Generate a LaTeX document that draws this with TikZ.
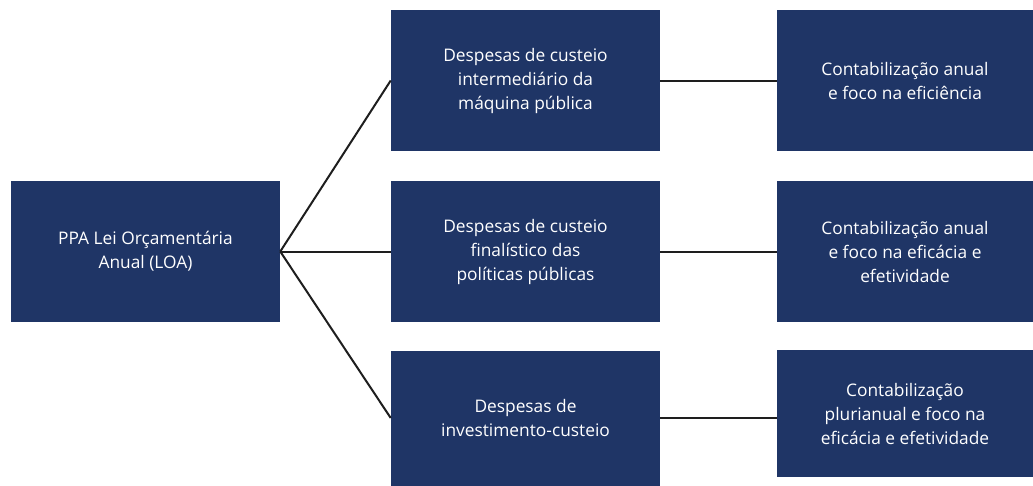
\documentclass[tikz,border=0pt]{standalone}
\usepackage{fontspec}
\setmainfont{Open Sans}
\usepackage{tikz}
\definecolor{boxblue}{RGB}{31,53,102}
\definecolor{linegray}{RGB}{30,30,30}

\begin{document}
\begin{tikzpicture}[x=0.75pt,y=0.75pt,yscale=-1,xscale=1,
  bloco/.style={fill=boxblue,draw=none,text=white,align=center,inner sep=0pt,
    minimum width=269*0.75pt,font=\fontsize{13}{18}\selectfont},
  ligacao/.style={draw=linegray,line width=1.5pt}]
\useasboundingbox (0,0) rectangle (1033,486);

% Text Node
\node [bloco,minimum height=141*0.75pt] (ppa) at (145.5,251.5) {PPA Lei Orçamentária\\Anual (LOA)};
% Text Node
\node [bloco,minimum height=141*0.75pt] (interm) at (525.5,80.5) {Despesas de custeio\\intermediário da\\máquina pública};
% Text Node
\node [bloco,minimum height=141*0.75pt] (final) at (525.5,251.5) {Despesas de custeio\\finalístico das\\políticas públicas};
% Text Node
\node [bloco,minimum height=135*0.75pt] (invest) at (525.5,418) {Despesas de\\investimento-custeio};
% Text Node
\node [bloco,minimum width=256*0.75pt,minimum height=141*0.75pt] (efic) at (905,80.5) {Contabilização anual\\e foco na eficiência};
% Text Node
\node [bloco,minimum width=256*0.75pt,minimum height=141*0.75pt] (efet) at (905,251.5) {Contabilização anual\\e foco na eficácia e\\efetividade};
% Text Node
\node [bloco,minimum width=256*0.75pt,minimum height=127*0.75pt] (pluri) at (905,413.5) {Contabilização\\plurianual e foco na\\eficácia e efetividade};

%Straight Lines
\draw [ligacao] (ppa.east) -- (interm.west);
\draw [ligacao] (ppa.east) -- (final.west);
\draw [ligacao] (ppa.east) -- (invest.west);
%Straight Lines
\draw [ligacao] (interm.east) -- (efic.west);
\draw [ligacao] (final.east) -- (efet.west);
\draw [ligacao] (invest.east) -- (invest.east -| pluri.west);

\end{tikzpicture}
\end{document}
